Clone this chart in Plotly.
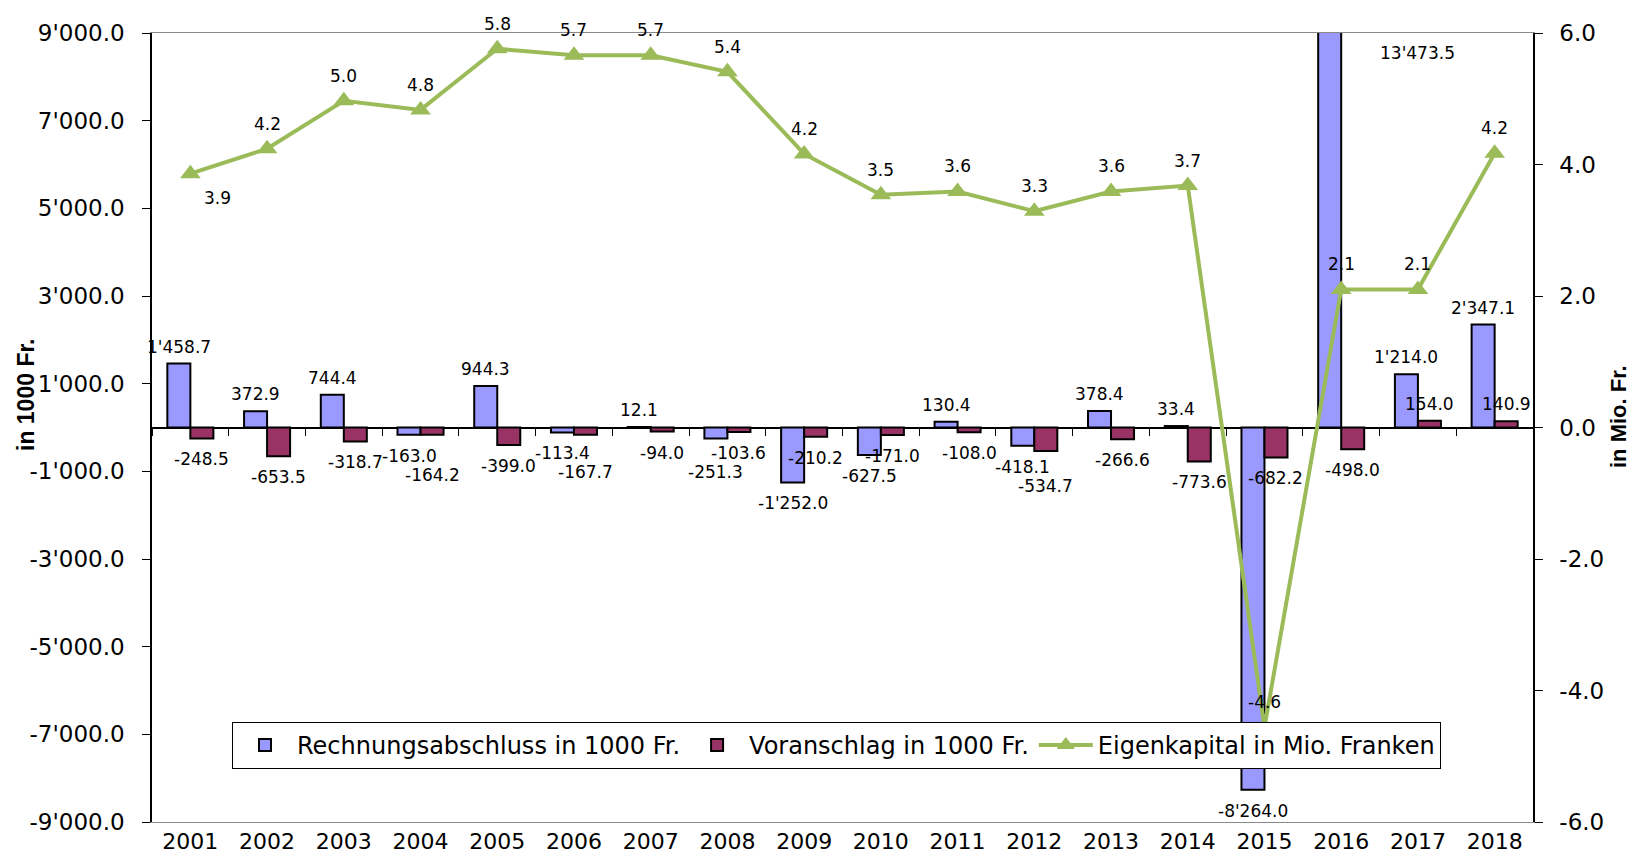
import plotly.graph_objects as go

YEARS = [str(y) for y in range(2001, 2019)]

# Rechnungsabschluss in 1000 Fr.
RECHNUNG = [1458.7, 372.9, 744.4, -163.0, 944.3, -113.4, 12.1, -251.3, -1252.0,
            -627.5, 130.4, -418.1, 378.4, 33.4, -8264.0, 13473.5, 1214.0, 2347.1]
# Voranschlag in 1000 Fr.
VORANSCHLAG = [-248.5, -653.5, -318.7, -164.2, -399.0, -167.7, -94.0, -103.6, -210.2,
               -171.0, -108.0, -534.7, -266.6, -773.6, -682.2, -498.0, 154.0, 140.9]
# Eigenkapital in Mio. Franken
EIGENKAPITAL = [3.86, 4.24, 4.97, 4.83, 5.76, 5.66, 5.66, 5.41, 4.16,
                3.54, 3.59, 3.29, 3.59, 3.68, -4.56, 2.1, 2.1, 4.17]

LEFT_TICKS = [-9000, -7000, -5000, -3000, -1000, 1000, 3000, 5000, 7000, 9000]
RIGHT_TICKS = [-6, -4, -2, 0, 2, 4, 6]
Y_MAX = 9000

BLUE = "#9999FF"
MAROON = "#993366"
GREEN = "#9BBB59"
FONT = "DejaVu Sans"
LABEL_SIZE = 17

# page geometry: the browser puts an 8px body margin around the figure
PAGE_W, PAGE_H, BODY = 1636, 857, 8
W, H = PAGE_W - 2 * BODY, PAGE_H - 2 * BODY
M_L, M_R, M_T, M_B = 144, 95, 25, 27
BARGAP = 0.4
PLOT_W = W - M_L - M_R
PLOT_H = H - M_T - M_B
PX_PER_UNIT = PLOT_H / (2 * Y_MAX)
BAR_W = PLOT_W / len(YEARS) * (1 - BARGAP) / 2
MIN_SEP = 19


def paper_x(px):
    return (px - BODY - M_L) / PLOT_W


def paper_y(py):
    return (H - M_B - (py - BODY)) / PLOT_H


def fmt(v):
    return f"{v:,.1f}".replace(",", "'")


x_range = [-0.5, len(YEARS) - 0.5]

fig = go.Figure()
fig.add_trace(go.Bar(
    x=YEARS, y=RECHNUNG, name="Rechnungsabschluss in 1000 Fr.",
    marker=dict(color=BLUE, line=dict(color="black", width=2)),
))
fig.add_trace(go.Bar(
    x=YEARS, y=VORANSCHLAG, name="Voranschlag in 1000 Fr.",
    marker=dict(color=MAROON, line=dict(color="black", width=2)),
))
fig.add_trace(go.Scatter(
    x=YEARS, y=EIGENKAPITAL, name="Eigenkapital in Mio. Franken",
    xaxis="x2", yaxis="y2", mode="lines+markers",
    line=dict(color=GREEN, width=4),
    marker=dict(symbol="triangle-up", size=18, color=GREEN),
))

label_font = dict(family=FONT, size=LABEL_SIZE, color="black")
annotations = []

# bar labels (the deeper one is pushed down when two negative labels collide)
for i in range(len(YEARS)):
    a, b = RECHNUNG[i], VORANSCHLAG[i]
    extra = [0, 0]
    if a < 0 and b < 0:
        diff = abs(a - b) * PX_PER_UNIT
        if diff < MIN_SEP:
            extra[1 if abs(b) >= abs(a) else 0] = -(MIN_SEP - diff)
    for k, (v, dx) in enumerate([(a, -BAR_W / 2), (b, BAR_W / 2)]):
        if abs(v) > Y_MAX:
            # clipped bar: label placed at the top next to it
            annotations.append(dict(x=i + 1, y=8550, text=fmt(v), showarrow=False,
                                    yanchor="middle", font=label_font))
            continue
        pos = v >= 0
        annotations.append(dict(
            x=i, y=v, text=fmt(v), showarrow=False, xshift=dx,
            yanchor="bottom" if pos else "top",
            yshift=(5 if pos else -9) + extra[k], font=label_font,
        ))

# line labels
for i, v in enumerate(EIGENKAPITAL):
    first = i == 0
    annotations.append(dict(
        x=i, y=v, xref="x2", yref="y2", text=f"{v:.1f}", showarrow=False,
        yanchor="middle", xshift=27 if first else 0, yshift=-24 if first else 25,
        font=label_font,
    ))

# axis titles
annotations += [
    dict(text="<b>in 1000 Fr.</b>", x=paper_x(26), y=paper_y(395),
         xref="paper", yref="paper", textangle=-90, showarrow=False,
         xanchor="center", yanchor="middle",
         font=dict(family="Liberation Sans", size=23, color="black")),
    dict(text="<b>in Mio. Fr.</b>", x=paper_x(1618), y=paper_y(417),
         xref="paper", yref="paper", textangle=-90, showarrow=False,
         xanchor="center", yanchor="middle",
         font=dict(family="Liberation Sans", size=22, color="black")),
]

fig.update_layout(
    width=W, height=H,
    margin=dict(l=M_L, r=M_R, t=M_T, b=M_B),
    paper_bgcolor="white", plot_bgcolor="white",
    font=dict(family=FONT, size=23, color="black"),
    barmode="group", bargap=BARGAP, bargroupgap=0,
    showlegend=True,
    legend=dict(
        orientation="h", x=paper_x(232), y=paper_y(722),
        xanchor="left", yanchor="top",
        bgcolor="white", bordercolor="black", borderwidth=1,
        font=dict(family=FONT, size=24), traceorder="normal",
        itemwidth=54,
    ),
    xaxis=dict(
        type="category", categoryarray=YEARS, range=x_range, automargin=False,
        showline=True, linecolor="#888888", linewidth=1, mirror=True,
        ticks="", showgrid=False, tickfont=dict(size=22), ticklabelstandoff=0,
    ),
    xaxis2=dict(
        type="category", categoryarray=YEARS, range=x_range, automargin=False,
        overlaying="x", anchor="free", position=0.5,
        tickson="boundaries", ticks="outside", ticklen=7, tickcolor="black",
        showticklabels=False, showline=False, showgrid=False,
    ),
    yaxis=dict(
        range=[-Y_MAX, Y_MAX], tickvals=LEFT_TICKS, ticktext=[fmt(v) for v in LEFT_TICKS],
        ticks="outside", ticklen=8, tickcolor="black", automargin=False,
        showline=True, linecolor="black", linewidth=1.5,
        showgrid=False, zeroline=True, zerolinecolor="black", zerolinewidth=1.5,
        tickfont=dict(size=23), ticklabelstandoff=13,
    ),
    yaxis2=dict(
        overlaying="y", side="right", anchor="x2", range=[-6, 6], automargin=False,
        tickvals=RIGHT_TICKS, ticktext=[f"{v:.1f}" for v in RIGHT_TICKS],
        ticks="outside", ticklen=8, tickcolor="black",
        showline=True, linecolor="black", linewidth=1.5,
        showgrid=False, zeroline=False, tickfont=dict(size=23), ticklabelstandoff=12,
    ),
    annotations=annotations,
)

fig.write_html("out.html")
